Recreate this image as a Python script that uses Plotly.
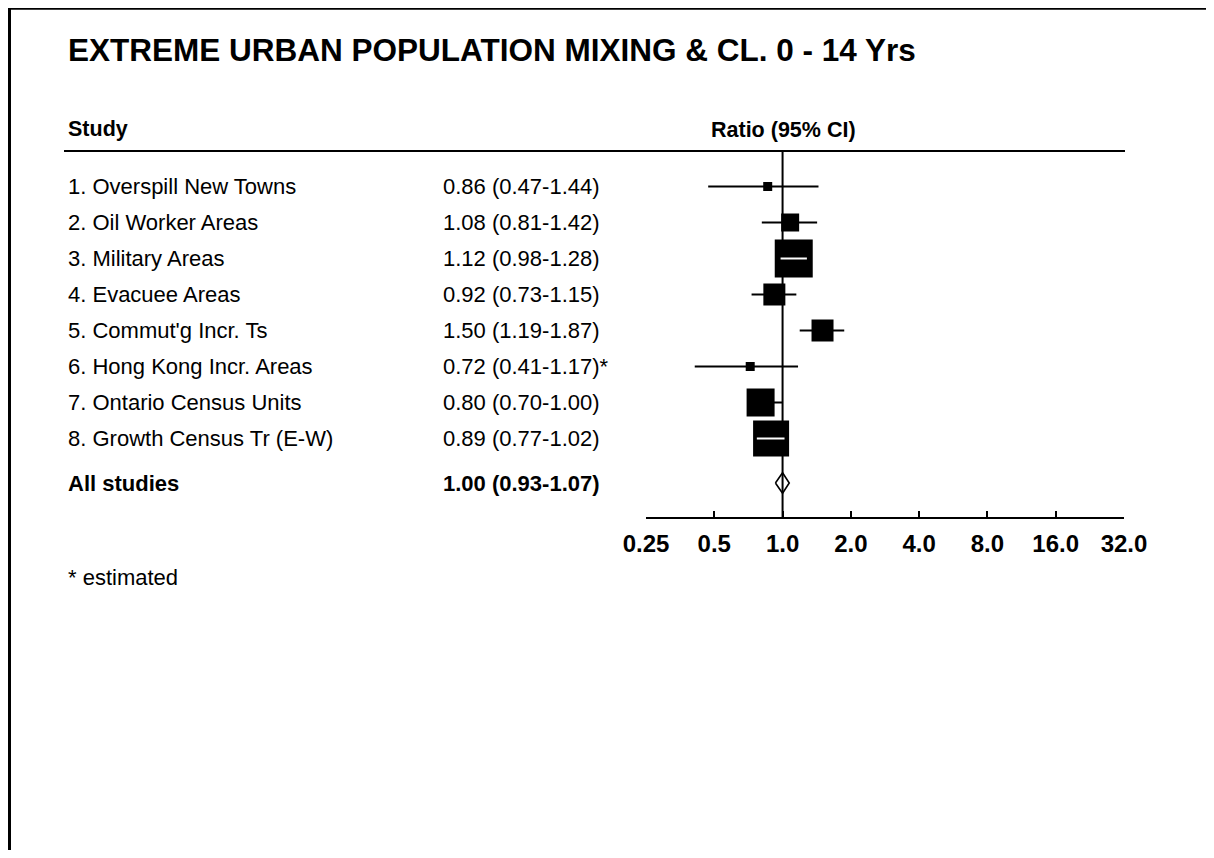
import math
import plotly.graph_objects as go

# ---------------- data ----------------
studies = [
    "1. Overspill New Towns",
    "2. Oil Worker Areas",
    "3. Military Areas",
    "4. Evacuee Areas",
    "5. Commut'g Incr. Ts",
    "6. Hong Kong Incr. Areas",
    "7. Ontario Census Units",
    "8. Growth Census Tr (E-W)",
]
ratio = [0.86, 1.08, 1.12, 0.92, 1.50, 0.72, 0.80, 0.89]
ci_low = [0.47, 0.81, 0.98, 0.73, 1.19, 0.41, 0.70, 0.77]
ci_high = [1.44, 1.42, 1.28, 1.15, 1.87, 1.17, 1.00, 1.02]
estimated = [False, False, False, False, False, True, False, False]
weights = [9, 18, 38, 22, 22, 9, 28, 36]  # box size (study weight)

overall_label = "All studies"
overall_ratio = 1.00
overall_low = 0.93
overall_high = 1.07

null_value = 1.0
tick_vals = [0.25, 0.5, 1, 2, 4, 8, 16, 32]
tick_text = ["0.25", "0.5", "1.0", "2.0", "4.0", "8.0", "16.0", "32.0"]

title_text = "EXTREME URBAN POPULATION MIXING & CL. 0 - 14 Yrs"
footnote = "* estimated"

# ---------------- layout geometry (page pixels) ----------------
OFF = 8                      # html body margin
W, H = 1214 - 2 * OFF, 858 - 2 * OFF
FONT = "Liberation Sans, Arial, Helvetica, sans-serif"

ROW0 = 150.5       # page y of header rule (row 0)
ROWH = 36.0        # row pitch
AX_X0, AX_X1 = 646, 1124
AX_Y = 518


def px(x):
    return (x - OFF) / W


def py(y):
    return 1 - (y - OFF) / H


def row_of(y):
    return (y - ROW0) / ROWH


rows = [i + 1 for i in range(len(studies))]
overall_row = row_of(483)
axis_row = row_of(AX_Y)

fig = go.Figure()

# summary diamond
dh = 10.3 / ROWH
fig.add_trace(go.Scatter(
    x=[overall_low, overall_ratio, overall_high, overall_ratio, overall_low],
    y=[overall_row, overall_row - dh, overall_row, overall_row + dh, overall_row],
    mode="lines", fill="toself", fillcolor="white",
    line=dict(color="black", width=1.6), hoverinfo="skip", showlegend=False))

# null line
fig.add_trace(go.Scatter(
    x=[null_value, null_value], y=[0, axis_row], mode="lines",
    line=dict(color="black", width=2), hoverinfo="skip", showlegend=False))

# confidence intervals
cx, cy = [], []
for lo, hi, r in zip(ci_low, ci_high, rows):
    cx += [lo, hi, None]
    cy += [r, r, None]
fig.add_trace(go.Scatter(x=cx, y=cy, mode="lines",
                         line=dict(color="black", width=1.8),
                         hoverinfo="skip", showlegend=False))

# weighted boxes
fig.add_trace(go.Scatter(
    x=ratio, y=rows, mode="markers",
    marker=dict(symbol="square", size=weights, color="black",
                opacity=1, line=dict(width=0)),
    hoverinfo="skip", showlegend=False))

# CI fully inside its box is drawn in white
ppd = (AX_X1 - AX_X0) / (math.log2(tick_vals[-1]) - math.log2(tick_vals[0]))
wx, wy = [], []
for est, lo, hi, r, w in zip(ratio, ci_low, ci_high, rows, weights):
    half = (w / 2) / ppd
    c = math.log2(est)
    if math.log2(lo) >= c - half and math.log2(hi) <= c + half:
        wx += [lo, hi, None]
        wy += [r, r, None]
fig.add_trace(go.Scatter(x=wx, y=wy, mode="lines",
                         line=dict(color="white", width=2),
                         hoverinfo="skip", showlegend=False))

# ---------------- text ----------------
ann = []
body = dict(family=FONT, size=22, color="black")
bold = dict(family=FONT, size=22, color="black", weight="bold")
for s, r, lo, hi, est, e in zip(studies, rows, ci_low, ci_high, ratio, estimated):
    ann.append(dict(x=px(66), y=r, xref="paper", yref="y", text=s,
                    showarrow=False, xanchor="left", yanchor="middle", font=body))
    val = f"{est:.2f} ({lo:.2f}-{hi:.2f})" + ("*" if e else "")
    ann.append(dict(x=px(441), y=r, xref="paper", yref="y", text=val,
                    showarrow=False, xanchor="left", yanchor="middle", font=body))
ann.append(dict(x=px(66), y=overall_row, xref="paper", yref="y", text=overall_label,
                showarrow=False, xanchor="left", yanchor="middle", font=bold))
ann.append(dict(x=px(441), y=overall_row, xref="paper", yref="y",
                text=f"{overall_ratio:.2f} ({overall_low:.2f}-{overall_high:.2f})",
                showarrow=False, xanchor="left", yanchor="middle", font=bold))
ann.append(dict(x=px(66), y=py(129), xref="paper", yref="paper", text="Study",
                showarrow=False, xanchor="left", yanchor="middle",
                font=dict(family=FONT, size=21.5, color="black", weight="bold")))
ann.append(dict(x=px(783), y=py(130), xref="paper", yref="paper", text="Ratio (95% CI)",
                showarrow=False, xanchor="center", yanchor="middle",
                font=dict(family=FONT, size=21.5, color="black", weight="bold")))
ann.append(dict(x=px(66), y=py(50), xref="paper", yref="paper", text=title_text,
                showarrow=False, xanchor="left", yanchor="middle",
                font=dict(family=FONT, size=31.5, color="black", weight="bold")))
ann.append(dict(x=px(66), y=py(577), xref="paper", yref="paper", text=footnote,
                showarrow=False, xanchor="left", yanchor="middle", font=body))

shapes = [
    # header rule
    dict(type="line", xref="paper", yref="paper", x0=px(64), x1=px(1125),
         y0=py(151), y1=py(151), line=dict(color="black", width=2)),
    # frame (top and left edges)
    dict(type="line", xref="paper", yref="paper", x0=px(8), x1=1,
         y0=py(OFF + 0.75), y1=py(OFF + 0.75), line=dict(color="black", width=2)),
    dict(type="line", xref="paper", yref="paper", x0=px(9.5), x1=px(9.5),
         y0=0, y1=1, line=dict(color="black", width=3)),
]

fig.update_layout(
    width=W, height=H,
    margin=dict(l=0, r=0, t=0, b=0, pad=0, autoexpand=False),
    paper_bgcolor="white", plot_bgcolor="white",
    showlegend=False, annotations=ann, shapes=shapes,
    xaxis=dict(type="log", range=[math.log10(tick_vals[0]), math.log10(tick_vals[-1])],
               domain=[px(AX_X0), px(AX_X1)], anchor="free", position=py(AX_Y),
               automargin=False,
               showline=True, linecolor="black", linewidth=2,
               ticks="inside", ticklen=6, tickwidth=2, tickcolor="black",
               tickvals=tick_vals, ticktext=tick_text,
               tickfont=dict(family=FONT, size=24, color="black", weight="bold"),
               ticklabelstandoff=4,
               showgrid=False, zeroline=False, fixedrange=True),
    yaxis=dict(range=[row_of(OFF + H), row_of(OFF)], domain=[0, 1],
               automargin=False,
               visible=False, showgrid=False, zeroline=False, fixedrange=True),
)

fig.write_html("out.html")
